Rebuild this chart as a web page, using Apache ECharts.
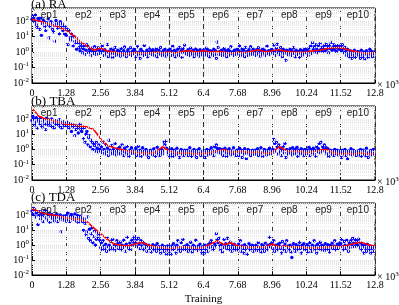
<!DOCTYPE html>
<html><head><meta charset="utf-8">
<script src="https://cdn.jsdelivr.net/npm/echarts@6/dist/echarts.min.js"></script>
<style>html,body{margin:0;padding:0;background:#fff}#c{width:399px;height:305px}</style>
</head><body><div id="c"></div>
<script>
// ---------- data ----------
const panelTitles = ['(a) RA', '(b) TBA', '(c) TDA'];
const epochLabels = ['ep1','ep2','ep3','ep4','ep5','ep6','ep7','ep8','ep9','ep10'];
const xMax = 12800;          // training iterations
const xTickStep = 1280;      // one epoch
const scatterStep = 32;      // iterations between raw loss samples
const avgStep = 256;         // iterations between smoothed loss samples

const raLoss = [
 130,200,160,90,250,60,40,150,110,30,160,12,70,120,100,45,25,80,60,140,
 8,45,90,80,30,20,55,5,110,70,35,60,15,90,40,70,25,50,15,40,
 12,30,3,25,8,6,15,9,2.5,10,5,4,1.5,7,4,2,1.2,3,2,0.9,
 1.6,2.5,0.7,1.3,3,2.5,0.9,1.5,1.1,0.6,1.8,1.2,0.8,2.2,1,0.7,1.4,1.9,0.8,1.2,
 1.8,0.9,2.5,1.2,0.6,1.4,0.8,1.0,3.0,0.5,1.1,0.7,1.6,0.9,0.45,1.3,0.8,2.0,0.6,1.0,
 1.3,0.7,1.1,0.55,1.7,0.9,0.65,1.2,2.1,0.8,0.5,1.0,1.4,0.7,0.9,1.9,0.6,1.1,0.8,1.5,
 1.2,0.5,0.9,2.2,0.7,1.0,0.4,1.5,0.8,1.1,0.6,2.6,0.9,0.7,1.3,0.5,1.0,1.8,0.8,1.2,
 0.7,1.4,0.95,0.6,1.1,1.6,0.5,0.85,1.3,0.75,2.0,0.9,0.6,1.2,0.8,1.5,0.55,1.0,0.7,1.3,
 0.9,1.6,0.6,1.1,2.4,0.7,1.3,0.5,1.0,0.8,1.5,0.6,2.0,0.9,1.2,0.45,1.7,1.0,2.8,0.8,
 1.1,0.7,1.4,0.9,0.6,1.8,1.0,0.75,1.3,0.5,0.95,1.6,0.7,1.2,0.85,0.55,1.4,0.9,1.1,0.65,
 1.3,0.7,1.0,1.8,0.6,1.4,0.9,0.5,1.2,0.8,1.1,0.6,1.5,0.7,1.2,0.4,4.5,2.0,0.7,1.1,
 0.8,1.3,0.6,1.0,1.7,0.75,1.2,0.5,0.9,1.4,0.65,1.1,2.2,0.8,1.0,0.6,1.3,0.9,0.7,1.5,
 0.8,1.2,2.5,0.6,1.0,1.6,0.7,1.3,0.5,2.0,0.9,1.1,0.6,1.4,0.8,2.2,1.0,0.7,1.5,0.9,
 1.1,0.6,1.4,0.8,1.9,1.0,0.55,1.2,0.75,1.6,0.9,1.3,0.6,1.0,2.4,0.8,1.2,0.7,1.0,1.4,
 1.4,0.8,2.8,1.1,0.6,1.7,3.2,0.9,1.2,0.7,2.0,1.0,0.5,1.5,0.8,1.1,0.3,1.3,0.7,1.0,
 0.9,1.5,0.6,1.2,0.8,1.9,1.0,0.5,1.3,0.7,1.1,0.85,0.45,1.4,0.9,0.6,1.2,0.8,1.6,1.0,
 0.9,1.3,0.6,1.8,1.0,2.5,0.8,4.0,1.4,2.2,1.0,3.0,1.6,0.9,2.6,1.2,3.5,1.5,2.0,1.1,
 1.8,2.6,1.2,3.2,1.5,2.2,0.9,2.8,1.7,4.2,1.3,2.0,3.0,1.4,2.4,1.1,1.9,2.7,1.5,2.1,
 2.4,1.2,3.0,1.6,0.9,2.0,1.1,0.6,1.5,0.8,0.5,1.2,0.7,0.4,1.0,0.6,1.3,0.45,0.9,0.7,
 1.1,0.6,0.9,0.4,1.3,0.7,0.5,1.0,0.35,0.8,1.2,0.6,0.45,0.9,1.5,0.7,1.1,0.5,0.8,1.0
];
const raAvg = [
 130,100,75,55,40,25,12,5,2.5,1.3,
 1.8,1.1,1.0,0.8,0.75,0.95,0.85,0.9,1.0,0.9,
 1.0,0.85,1.1,1.2,1.0,1.2,1.0,1.1,1.0,0.8,
 1.0,0.9,1.1,1.4,1.0,1.2,1.4,1.1,1.0,0.95,
 1.0,1.2,1.3,1.7,1.9,2.0,1.4,1.1,0.9,0.8,1.0
];

const tbaLoss = [
 80,150,100,40,60,120,25,90,70,50,120,35,30,70,85,45,20,110,60,40,
 85,55,35,100,30,60,25,75,45,70,50,40,90,30,55,25,65,40,35,50,
 40,60,30,25,50,45,15,35,30,40,8,20,35,25,12,30,45,20,15,25,
 5,25,3,10,15,2,6,8,1.5,4,3,1.0,2.5,1.8,0.8,3,1.2,0.7,2,1.0,
 0.8,1.5,0.6,3.0,1.0,0.5,2.0,0.7,1.2,0.4,4.0,0.9,0.6,1.8,0.5,1.0,0.7,2.5,0.45,0.8,
 1.1,0.6,1.4,0.5,0.9,2.0,0.7,0.4,1.2,0.6,0.8,1.6,0.5,0.35,0.9,0.7,1.3,0.55,0.8,0.6,
 0.6,1.2,0.4,0.8,1.6,0.5,0.9,0.35,0.7,1.3,0.5,0.8,0.6,1.0,0.45,0.7,0.3,0.6,0.9,0.5,
 0.8,0.45,1.1,0.6,0.35,0.7,1.4,0.5,0.9,0.4,0.65,1.0,0.5,0.8,3.0,2.0,3.5,1.2,0.6,0.9,
 0.4,0.8,0.5,1.1,0.35,0.6,0.9,0.45,0.7,1.2,0.5,0.6,0.3,0.8,1.0,0.5,0.7,0.4,0.9,0.6,
 0.55,0.9,0.4,0.7,1.3,0.5,0.35,0.8,0.6,1.0,0.45,0.7,0.3,0.9,0.55,1.1,0.6,0.4,0.75,0.5,
 0.5,0.8,0.3,0.6,1.0,0.45,0.7,0.9,0.5,1.3,0.6,0.8,0.4,1.5,0.7,2.0,1.2,0.9,0.6,1.1,
 0.7,0.5,1.0,0.4,0.8,1.2,0.6,0.35,0.9,0.55,1.1,0.7,0.45,0.8,0.6,1.3,0.5,0.75,0.4,0.9,
 0.7,0.4,1.2,0.6,0.9,0.3,0.8,0.5,1.1,0.6,0.25,0.7,1.0,0.5,0.8,0.4,0.6,0.9,0.5,0.7,
 0.9,0.5,0.65,1.1,0.4,0.8,0.55,1.3,0.6,0.35,0.75,1.0,0.5,0.7,0.45,0.9,0.6,1.2,0.5,0.8,
 0.6,1.0,4.5,2.5,0.8,3.0,1.5,0.5,2.0,0.7,1.2,0.4,0.9,1.6,0.6,2.5,0.3,1.0,0.5,0.8,
 0.6,1.1,0.7,0.45,1.3,0.8,0.5,1.0,0.6,1.4,0.35,0.9,0.7,0.5,1.1,0.6,0.8,0.4,1.0,0.7,
 0.5,0.9,0.7,1.4,0.4,1.0,0.6,0.8,1.2,0.5,0.9,0.35,1.5,0.7,1.1,2.5,0.6,3.0,0.8,1.5,
 1.0,2.0,0.7,1.3,0.5,1.1,0.35,0.7,0.9,0.5,0.6,0.8,0.4,1.0,0.55,0.7,0.9,0.45,0.6,0.8,
 0.6,0.3,0.9,0.5,0.7,1.0,0.4,0.6,0.25,0.8,0.5,0.7,1.1,0.45,0.6,0.9,0.5,0.7,0.4,0.6,
 0.8,0.45,0.65,1.0,0.35,0.6,0.9,0.5,0.75,0.4,1.2,0.55,0.3,0.7,0.5,0.85,0.45,0.6,1.0,0.5
];
const tbaAvg = [
 500,150,100,80,60,45,40,35,30,20,
 5,1.8,1.3,1.0,0.8,0.65,0.6,0.55,0.6,1.5,
 0.8,0.6,0.55,0.6,0.5,0.55,0.6,0.8,1.0,0.65,
 0.7,0.75,0.6,0.7,0.55,0.6,1.5,0.9,0.7,0.8,
 0.6,0.7,0.9,1.0,0.6,0.5,0.55,0.5,0.6,0.5,0.55
];

const tdaLoss = [
 200,120,300,250,80,150,180,25,100,180,60,140,90,40,130,220,70,200,50,110,
 150,35,80,120,60,90,45,100,70,130,40,85,60,110,8,75,50,95,65,45,
 100,50,150,70,40,90,120,60,80,55,130,45,70,100,35,60,90,50,75,40,
 10,60,30,5,8,80,3,12,2,6,15,1.5,4,9,1,2.5,7,3,5,2,
 0.7,1.5,0.5,2.0,0.9,0.6,1.2,0.4,3.0,0.8,1.0,0.5,1.8,0.7,2.5,0.6,1.1,0.45,0.9,2.0,
 1.3,0.6,0.8,1.6,0.5,1.0,0.7,2.2,0.9,0.4,1.2,3.5,0.8,0.6,1.4,0.5,2.0,1.0,2.8,1.6,
 4.0,1.5,2.5,0.8,3.0,1.2,0.6,2.0,0.9,1.6,0.5,1.3,0.7,1.1,0.4,0.9,1.0,0.6,0.8,0.35,
 0.7,1.1,0.5,0.6,0.9,0.4,1.3,0.6,0.8,0.5,0.3,0.7,1.0,0.55,0.4,0.8,0.6,0.25,0.9,0.5,
 0.4,0.7,0.25,0.9,0.5,1.3,0.6,0.8,0.3,1.0,2.0,0.5,0.7,0.4,1.5,0.6,2.5,0.8,0.5,0.9,
 0.6,1.1,0.4,0.8,0.5,1.6,0.7,0.35,1.0,0.55,0.8,2.2,0.6,0.45,0.9,0.7,1.2,0.5,0.3,0.8,
 0.6,0.3,1.0,0.5,0.8,0.4,1.2,0.7,1.5,2.0,0.8,0.5,0.6,1.2,0.9,6.0,2.5,1.5,3.0,0.9,
 0.5,1.1,0.35,0.7,2.5,0.8,1.3,0.6,3.0,0.9,0.5,1.6,0.7,0.4,1.0,0.6,1.2,0.5,0.8,0.6,
 0.5,1.2,0.7,2.0,0.4,0.9,0.6,0.3,1.1,0.5,0.8,0.25,0.7,1.3,0.5,0.9,0.6,1.0,0.4,0.8,
 0.6,1.0,0.45,0.8,1.5,0.5,0.7,0.35,1.1,0.6,0.9,0.4,1.4,0.7,0.5,1.0,0.8,3.5,1.2,0.7,
 1.5,0.6,2.0,0.4,1.0,0.7,0.5,1.2,0.9,1.4,0.6,0.3,1.8,0.8,0.5,1.2,0.4,2.0,0.7,0.9,
 0.5,1.0,0.35,0.15,0.8,1.3,0.6,0.4,1.1,0.7,0.5,0.9,1.6,0.6,0.3,1.0,0.7,1.3,0.5,0.8,
 0.5,1.1,0.35,0.8,1.5,0.6,0.4,1.0,0.7,2.0,0.5,0.9,0.3,1.2,0.6,0.8,1.6,0.5,1.0,0.7,
 0.9,0.45,1.3,0.6,0.8,1.1,0.5,0.35,1.0,0.7,1.4,0.6,0.9,2.0,0.5,0.8,1.2,0.6,1.0,1.5,
 1.3,2.5,0.8,0.5,1.8,1.0,0.6,2.2,0.9,0.4,1.5,0.7,2.0,1.1,3.0,1.4,0.8,2.4,1.2,1.8,
 1.0,2.6,0.7,1.5,0.5,1.1,0.8,0.3,1.0,0.6,0.4,1.2,0.7,0.5,0.9,0.3,0.6,0.8,0.4,0.7
];
const tdaAvg = [
 300,180,130,110,90,70,60,55,40,15,
 6,2.5,1.2,1.0,0.9,1.2,1.6,1.0,0.8,0.7,
 0.6,0.65,0.8,0.7,0.6,0.7,1.2,2.0,1.1,1.5,
 0.9,0.8,0.7,0.8,0.75,1.2,0.8,0.9,0.75,0.8,
 0.7,0.65,0.7,0.75,0.85,0.8,1.0,1.3,1.6,1.1,0.9
];

const panelLoss = [raLoss, tbaLoss, tdaLoss];
const panelAvg = [raAvg, tbaAvg, tdaAvg];
const yMin = 0.01, yMax = 700;

// ---------- layout / style ----------
const gridTops = [8, 106, 203];
const gridHeights = [75, 74, 72];
const titleTops = [-2, 95, 191];
const serif = '"Liberation Serif","Times New Roman",serif';
const sans = '"Liberation Sans",Arial,sans-serif';

const minorVals = [];
[0.01, 0.1, 1, 10, 100].forEach(d => { for (let k = 2; k <= 9; k++) { const v = d * k; if (v <= yMax) minorVals.push(+v.toPrecision(3)); } });

const grids = [], xAxes = [], yAxes = [], series = [], titles = [];
for (let p = 0; p < 3; p++) {
  grids.push({ left: 32, right: 24, top: gridTops[p], height: gridHeights[p], containLabel: false, outerBoundsMode: 'none',
    show: true, borderColor: '#000', borderWidth: 1, backgroundColor: '#fff' });
  titles.push({ text: panelTitles[p], left: 31, top: titleTops[p], padding: 0, textStyle: { fontFamily: serif, fontSize: 13, fontWeight: 'normal', color: '#000' } });
  titles.push({ text: '× 10{s|3}', left: 377, top: gridTops[p] + gridHeights[p] - 4, padding: 0,
    textStyle: { fontFamily: serif, fontSize: 10, fontWeight: 'normal', color: '#000',
      rich: { s: { fontSize: 7, fontFamily: serif, verticalAlign: 'bottom', padding: [0,0,6,0] } } } });
  xAxes.push({
    type: 'value', gridIndex: p, min: 0, max: xMax, interval: xTickStep,
    axisLine: { show: true, lineStyle: { color: '#000', width: 1 } },
    axisTick: { show: true, inside: true, length: 3, lineStyle: { color: '#000' } },
    axisLabel: { fontFamily: serif, fontSize: 10, color: '#000', margin: 5, formatter: v => String(parseFloat((v / 1000).toFixed(2))) },
    splitLine: { show: true, lineStyle: { color: '#333', type: [5, 3], width: 1 } }
  });
  xAxes.push({
    type: 'category', gridIndex: p, position: 'top', data: epochLabels, boundaryGap: true, z: 10,
    axisLine: { show: false }, axisTick: { show: false }, splitLine: { show: false },
    axisLabel: { inside: true, margin: 2, fontFamily: sans, fontSize: 10, color: '#222' }
  });
  yAxes.push({
    type: 'log', logBase: 10, gridIndex: p, min: yMin, max: yMax,
    name: 'Loss Value', nameLocation: 'middle', nameGap: 21, nameRotate: 90,
    nameTextStyle: { fontFamily: serif, fontSize: 11, color: '#000' },
    axisLine: { show: true, lineStyle: { color: '#000' } },
    axisTick: { show: true, inside: true, length: 3, lineStyle: { color: '#000' } },
    axisLabel: {
      fontFamily: serif, fontSize: 10, color: '#000', margin: 3, showMaxLabel: false,
      formatter: v => { const e = Math.log10(v); const r = Math.round(e); if (Math.abs(e - r) > 1e-6) return ''; return '10{s|' + r + '}'; },
      rich: { s: { fontSize: 7, fontFamily: serif, verticalAlign: 'bottom', padding: [0,0,6,0] } }
    },
    splitLine: { show: true, lineStyle: { color: '#dcdcdc', type: 'dotted', width: 1 } }
  });
}
// extra axis on the bottom panel carrying only the "Training" title
xAxes.push({
  type: 'value', gridIndex: 2, min: 0, max: xMax, position: 'bottom',
  name: 'Training', nameLocation: 'middle', nameGap: 19,
  nameTextStyle: { fontFamily: serif, fontSize: 11, color: '#000' },
  axisLine: { show: false }, axisTick: { show: false }, axisLabel: { show: false }, splitLine: { show: false }
});
for (let p = 0; p < 3; p++) {
  series.push({
    type: 'line', xAxisIndex: 2 * p, yAxisIndex: p, data: [], silent: true, z: 1,
    markLine: { silent: true, symbol: ['none', 'none'], label: { show: false }, animation: false,
      lineStyle: { color: '#e8e8e8', type: 'dotted', width: 1 }, data: minorVals.map(v => ({ yAxis: v })) }
  });
  series.push({
    type: 'scatter', xAxisIndex: 2 * p, yAxisIndex: p, symbol: 'circle', symbolSize: 3.4, z: 3,
    itemStyle: { color: '#0000ff', opacity: 1, borderWidth: 0 }, data: panelLoss[p].map((v, i) => [i * scatterStep, v])
  });
  series.push({
    type: 'line', xAxisIndex: 2 * p, yAxisIndex: p, showSymbol: false, z: 4,
    lineStyle: { color: '#ff0000', width: 1.6 }, data: panelAvg[p].map((v, i) => [i * avgStep, v])
  });
}
const chart = echarts.init(document.getElementById('c'), null, { renderer: 'canvas' });
chart.setOption({
  animation: false, backgroundColor: '#fff', title: titles, grid: grids, xAxis: xAxes, yAxis: yAxes, series: series
});
</script></body></html>
